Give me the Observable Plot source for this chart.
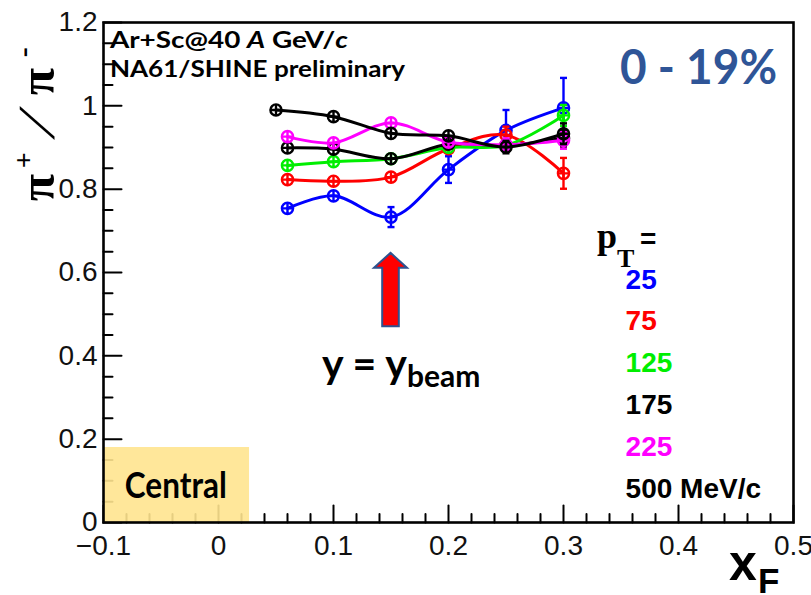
<!DOCTYPE html>
<html>
<head>
<meta charset="utf-8">
<script src="https://cdn.jsdelivr.net/npm/d3@7"></script>
<script src="https://cdn.jsdelivr.net/npm/@observablehq/plot@0.6"></script>
<style>
  html, body { margin: 0; padding: 0; background: #fff; }
  #chart svg { display: block; }
</style>
</head>
<body>
<div id="chart"></div>
<script>
// x_F bin centres
const xF = [0.06, 0.1, 0.15, 0.2, 0.25, 0.3];
const xF500 = [0.05, 0.1, 0.15, 0.2, 0.25, 0.3];

// pi+/pi- ratio for each p_T bin (MeV/c) and its uncertainty
const ratio25  = [0.754, 0.784, 0.733, 0.847, 0.941, 0.995];
const err25    = [0.010, 0.012, 0.024, 0.032, 0.049, 0.072];
const ratio75  = [0.823, 0.819, 0.829, 0.897, 0.930, 0.838];
const err75    = [0.008, 0.008, 0.010, 0.012, 0.020, 0.037];
const ratio125 = [0.857, 0.866, 0.873, 0.900, 0.905, 0.977];
const err125   = [0.006, 0.006, 0.008, 0.010, 0.015, 0.025];
const ratio175 = [0.899, 0.896, 0.873, 0.908, 0.905, 0.922];
const err175   = [0.006, 0.006, 0.008, 0.010, 0.012, 0.020];
const ratio225 = [0.926, 0.911, 0.959, 0.913, 0.907, 0.917];
const err225   = [0.008, 0.008, 0.010, 0.012, 0.015, 0.020];
const ratio500 = [0.990, 0.974, 0.934, 0.928, 0.901, 0.933];
const err500   = [0.008, 0.008, 0.010, 0.012, 0.015, 0.025];

const ptLabels = ["25", "75", "125", "175", "225", "500 MeV/c"];
const ptColors = ["#0000ff", "#ff0000", "#00ee00", "#000000", "#ff00ff", "#000000"];

// axis ticks
const xTicks = [-0.1, 0, 0.1, 0.2, 0.3, 0.4, 0.5];
const xTickLabels = ["\u22120.1", "0", "0.1", "0.2", "0.3", "0.4", "0.5"];
const yTicks = [0, 0.2, 0.4, 0.6, 0.8, 1, 1.2];
const yTickLabels = ["0", "0.2", "0.4", "0.6", "0.8", "1", "1.2"];
const xMinor = d3.range(-0.1, 0.5001, 0.02).filter(v => !xTicks.some(t => Math.abs(t - v) < 1e-9));
const yMinor = d3.range(0, 1.2001, 0.05).filter(v => !yTicks.some(t => Math.abs(t - v) < 1e-9));

const series = [
  {x: xF,    y: ratio25,  err: err25,  color: ptColors[0]},
  {x: xF,    y: ratio75,  err: err75,  color: ptColors[1]},
  {x: xF,    y: ratio125, err: err125, color: ptColors[2]},
  {x: xF,    y: ratio175, err: err175, color: ptColors[3]},
  {x: xF,    y: ratio225, err: err225, color: ptColors[4]},
  {x: xF500, y: ratio500, err: err500, color: ptColors[5]}
];

// open circle with a cross inside
const circlePlus = {
  draw(ctx, size) {
    const r = Math.sqrt(size / Math.PI);
    ctx.moveTo(r, 0);
    ctx.arc(0, 0, r, 0, 2 * Math.PI);
    ctx.moveTo(-r, 0); ctx.lineTo(r, 0);
    ctx.moveTo(0, -r); ctx.lineTo(0, r);
  }
};
// horizontal end cap of an error bar
const capSymbol = {
  draw(ctx, size) {
    const r = Math.sqrt(size / Math.PI);
    ctx.moveTo(-r, 0); ctx.lineTo(r, 0);
  }
};
// plain tick line for vector marks
const tickShape = {
  draw(ctx, l) { ctx.moveTo(0, 0); ctx.lineTo(0, -l); }
};

const centralBox = {x1: -0.1, x2: 0.027, y1: 0, y2: 0.18};

const seriesMarks = series.flatMap(s => {
  const pts = s.x.map((x, i) => ({x, y: s.y[i], e: s.err[i]}));
  const big = pts.filter(d => d.e > 0.014);
  return [
    Plot.line(pts, {x: "x", y: "y", stroke: s.color, strokeWidth: 3, curve: "catmull-rom"}),
    Plot.ruleX(big, {x: "x", y1: d => d.y - d.e, y2: d => d.y + d.e, stroke: s.color, strokeWidth: 2.4}),
    Plot.dot(big, {x: "x", y: d => d.y + d.e, symbol: capSymbol, r: 3.5, fill: "none", stroke: s.color, strokeWidth: 2.4}),
    Plot.dot(big, {x: "x", y: d => d.y - d.e, symbol: capSymbol, r: 3.5, fill: "none", stroke: s.color, strokeWidth: 2.4}),
    Plot.dot(pts, {x: "x", y: "y", symbol: circlePlus, r: 5.6, fill: "none", stroke: s.color, strokeWidth: 2.4})
  ];
});

const legendMarks = ptLabels.map((label, i) =>
  Plot.text([label], {
    x: 0.354, y: 0.583 - i * 0.1003, text: d => d,
    fill: ptColors[i], textAnchor: "start",
    fontSize: 28, fontWeight: "bold", fontFamily: "Liberation Sans"
  })
);

// annotation layer: titles, arrow and rich-text labels
function annotations(index, scales) {
  const x = scales.x, y = scales.y;
  const g = d3.create("svg:g").attr("text-anchor", "start");

  // arrow pointing at the beam rapidity
  const ax = x(0.15), tip = y(0.646), base = y(0.61), bottom = y(0.47);
  const hw = 16.5, sw = 8.3;
  g.append("path")
    .attr("d", `M${ax},${tip}L${ax + hw},${base}L${ax + sw},${base}L${ax + sw},${bottom}L${ax - sw},${bottom}L${ax - sw},${base}L${ax - hw},${base}Z`)
    .attr("fill", "#ff0000").attr("stroke", "#2f528f").attr("stroke-width", 2);

  // header
  const h1 = g.append("text").attr("x", x(-0.094)).attr("y", y(1.1375))
    .attr("font-family", "Lato").attr("font-weight", "bold").attr("font-size", 22)
    .attr("textLength", 238).attr("lengthAdjust", "spacingAndGlyphs");
  h1.append("tspan").text("Ar+Sc@40 ");
  h1.append("tspan").attr("font-style", "italic").text("A");
  h1.append("tspan").text(" GeV/");
  h1.append("tspan").attr("font-style", "italic").text("c");
  g.append("text").attr("x", x(-0.094)).attr("y", y(1.068))
    .attr("font-family", "Lato").attr("font-weight", "bold").attr("font-size", 22)
    .attr("textLength", 295).attr("lengthAdjust", "spacingAndGlyphs")
    .text("NA61/SHINE preliminary");

  // centrality
  g.append("text").attr("x", x(0.3496)).attr("y", y(1.051))
    .attr("font-family", "Lato").attr("font-weight", "bold").attr("font-size", 47)
    .attr("fill", "#2f5597")
    .attr("textLength", 157).attr("lengthAdjust", "spacingAndGlyphs")
    .text("0 - 19%");

  g.append("text").attr("x", x(-0.081)).attr("y", y(0.058))
    .attr("font-family", "Lato").attr("font-weight", "bold").attr("font-size", 36)
    .attr("textLength", 102).attr("lengthAdjust", "spacingAndGlyphs")
    .text("Central");

  // y = y_beam
  const yb = g.append("text").attr("x", x(0.0904)).attr("y", y(0.3456))
    .attr("font-family", "Lato").attr("font-weight", "bold").attr("font-size", 41);
  yb.append("tspan").text("y = y");
  yb.append("tspan").attr("font-size", 30).attr("dy", 9).text("beam");

  // p_T =
  const pt = g.append("text").attr("x", x(0.3296)).attr("y", y(0.6576))
    .attr("font-family", "Liberation Serif").attr("font-weight", "bold").attr("font-size", 36);
  pt.append("tspan").text("p");
  pt.append("tspan").attr("font-size", 26).attr("dy", 19).text("T");
  pt.append("tspan").attr("x", x(0.367)).attr("dy", -19)
    .attr("font-family", "Liberation Sans").attr("font-size", 28).text("=");

  // x-axis title
  const xt = g.append("text").attr("x", x(0.4443)).attr("y", y(-0.139))
    .attr("font-family", "Liberation Sans").attr("font-weight", "bold").attr("font-size", 50);
  xt.append("tspan").text("x");
  xt.append("tspan").attr("x", x(0.4443) + 29).attr("dy", 13).attr("font-size", 35).text("F");

  // y-axis title: pi+ / pi-
  const yt = g.append("g")
    .attr("transform", `translate(${x(-0.1426)},${y(0.77)}) rotate(-90)`)
    .attr("font-family", "Liberation Serif").attr("font-weight", "bold");
  yt.append("text").attr("x", 0).attr("font-size", 50).text("\u03c0");
  yt.append("text").attr("x", 33).attr("y", -21).attr("font-size", 28).text("+");
  yt.append("text").attr("transform", "translate(62,0) skewX(-28)").attr("font-size", 52).text("/");
  yt.append("text").attr("x", 106).attr("font-size", 50).text("\u03c0");
  yt.append("text").attr("x", 144).attr("y", -21).attr("font-size", 30).text("-");

  return g.node();
}

const plot = Plot.plot({
  width: 811,
  height: 595,
  marginTop: 22,
  marginRight: 18,
  marginBottom: 73,
  marginLeft: 103,
  x: {domain: [-0.1, 0.5], axis: null},
  y: {domain: [0, 1.2], axis: null},
  style: {background: "#fff", overflow: "visible"},
  marks: [
    // inward-pointing ticks
    Plot.vector(xMinor, {x: d => d, y: 0, length: 8.5, rotate: 0, anchor: "start", shape: tickShape, stroke: "black", strokeWidth: 2}),
    Plot.vector(xTicks, {x: d => d, y: 0, length: 17, rotate: 0, anchor: "start", shape: tickShape, stroke: "black", strokeWidth: 2}),
    Plot.vector(yMinor, {x: -0.1, y: d => d, length: 9, rotate: 90, anchor: "start", shape: tickShape, stroke: "black", strokeWidth: 2}),
    Plot.vector(yTicks, {x: -0.1, y: d => d, length: 18, rotate: 90, anchor: "start", shape: tickShape, stroke: "black", strokeWidth: 2}),
    // highlighted label box
    Plot.rect([centralBox], {x1: "x1", x2: "x2", y1: "y1", y2: "y2", fill: "#ffe48f", fillOpacity: 0.9}),
    Plot.frame({stroke: "black", strokeWidth: 2.6}),
    // tick labels
    Plot.text(xTicks, {x: d => d, y: 0, dy: 24, text: (d, i) => xTickLabels[i], fontSize: 28, fontFamily: "Liberation Sans", fill: "#111"}),
    Plot.text(yTicks, {x: -0.1, y: d => d, dx: -6, textAnchor: "end", text: (d, i) => yTickLabels[i], fontSize: 28, fontFamily: "Liberation Sans", fill: "#111"}),
    ...seriesMarks,
    ...legendMarks,
    annotations
  ]
});

document.getElementById("chart").append(plot);
</script>
</body>
</html>
